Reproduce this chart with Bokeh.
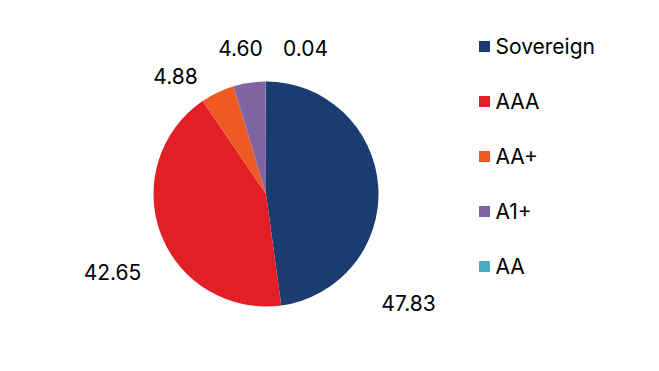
import math
from bokeh.plotting import figure
from bokeh.models import Range1d, ColumnDataSource
from bokeh.core.properties import value
from bokeh.embed import file_html
from bokeh.resources import INLINE

categories = ["Sovereign", "AAA", "AA+", "A1+", "AA"]
values = [47.83, 42.65, 4.88, 4.60, 0.04]
labels = ["47.83", "42.65", "4.88", "4.60", "0.04"]
colors = ["#1b3c70", "#e31f26", "#ee5a24", "#8064a2", "#4bacc6"]

W, H = 643, 355
p = figure(width=W, height=H, output_backend="svg", toolbar_location=None,
           x_range=Range1d(0, W), y_range=Range1d(0, H), min_border=0)
p.axis.visible = False
p.grid.visible = False
p.outline_line_color = None
p.background_fill_color = "white"

def py(y_page):
    return H - y_page

def px(x_page):
    return x_page

cx, cy, r = px(265.5), py(193.5), 112.5
total = sum(values)
starts, ends = [], []
cum = 0.0
for v in values:
    a0 = math.pi / 2 - 2 * math.pi * cum / total
    cum += v
    a1 = math.pi / 2 - 2 * math.pi * cum / total
    starts.append(a1)
    ends.append(a0)

src = ColumnDataSource(dict(x=[cx] * len(values), y=[cy] * len(values),
                            start=starts, end=ends, color=colors))
p.wedge(x="x", y="y", radius=r, radius_units="screen", start_angle="start",
        end_angle="end", fill_color="color", line_color=None, source=src)

# data label positions (layout)
label_pos = [(408, 302), (112, 271), (175, 75), (240, 47), (305, 47)]
p.text(x=[px(a) for a, b in label_pos], y=[py(b) for a, b in label_pos], text=labels,
       text_font=value("Inter"), text_font_size="21px", text_color="#000000",
       text_align="center", text_baseline="middle")

# legend
leg_y = [46 + 55 * i for i in range(len(categories))]
p.scatter(x=[px(484)] * len(categories), y=[py(y) for y in leg_y], marker="square",
          size=11, fill_color=colors, line_color=None)
p.text(x=[px(495)] * len(categories), y=[py(y) for y in leg_y], text=categories,
       text_font=value("Inter"), text_font_size="21px", text_color="#000000",
       text_align="left", text_baseline="middle")

open("out.html", "w").write(file_html(p, INLINE))
